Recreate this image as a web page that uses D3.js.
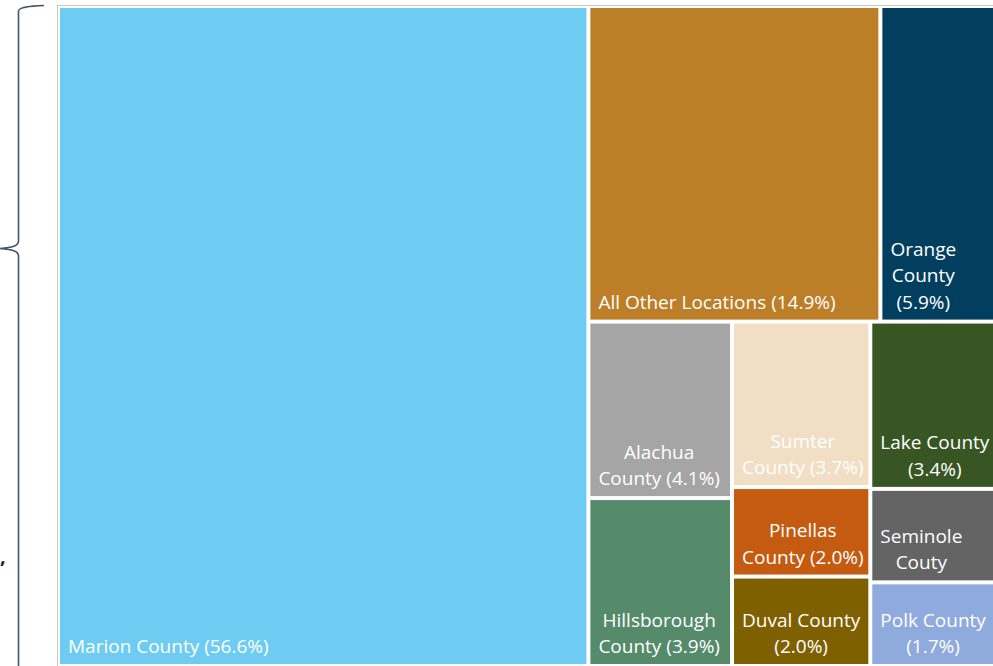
<!DOCTYPE html>
<html>
<head>
<meta charset="utf-8">
<script src="https://cdn.jsdelivr.net/npm/d3@7"></script>
<style>
  body { margin: 0; background: #fff; }
  svg { display: block; font-family: "Open Sans", sans-serif; }
</style>
</head>
<body>
<div id="chart"></div>
<script>
// Chart area
var svgWidth = 993;
var svgHeight = 666;

// Share of records by location (%)
var names = ["Marion County", "All Other Locations", "Orange County", "Alachua County",
  "Hillsborough County", "Sumter County", "Pinellas County", "Duval County",
  "Lake County", "Seminole Couty", "Polk County"];
var values = [56.6, 14.9, 5.9, 4.1, 3.9, 3.7, 2.0, 2.0, 3.4, 1.9, 1.7];
var colors = ["#6ecbf2", "#bd7e28", "#023f5f", "#a5a5a5", "#558a6b", "#f1dec4",
  "#c55a11", "#7f6000", "#375623", "#646464", "#8faadc"];
// label text as it is wrapped in the tiles
var labels = ["Marion County (56.6%)", "All Other Locations (14.9%)", "Orange\nCounty\n(5.9%)",
  "Alachua\nCounty (4.1%)", "Hillsborough\nCounty (3.9%)", "Sumter\nCounty (3.7%)",
  "Pinellas\nCounty (2.0%)", "Duval County\n(2.0%)", "Lake County\n(3.4%)",
  "Seminole\nCouty", "Polk County\n(1.7%)"];
// how the tiles are grouped (index into the arrays above)
var layout = [0, [[1, 2], [[3, 4], [5, 6, 7], [8, 9, 10]]]];

var svg = d3.select("#chart")
  .append("svg")
  .attr("width", svgWidth)
  .attr("height", svgHeight);

// outer frame of the chart
svg.append("rect")
  .attr("x", 57.5)
  .attr("y", 5.5)
  .attr("width", 1000)
  .attr("height", 700)
  .attr("fill", "none")
  .attr("stroke", "#c9c9c9")
  .attr("stroke-width", 1);

// brace on the left
svg.append("path")
  .attr("d", "M44,5.5 C30,6 19,7 18.5,11 L18.5,241 C18.5,246 12,247.5 0,248.5 C12,249.5 18.5,251 18.5,256 L18.5,700")
  .attr("fill", "none")
  .attr("stroke", "#44546a")
  .attr("stroke-width", 1.6);

svg.append("text")
  .attr("x", 0)
  .attr("y", 563)
  .attr("fill", "#222")
  .style("font-size", "20px")
  .style("font-weight", "bold")
  .text(",");

function build(g) {
  return Array.isArray(g) ? { children: g.map(build) } : { i: g };
}

var root = d3.hierarchy(build(layout))
  .sum(d => d.i !== undefined ? values[d.i] : 0);

// alternate horizontal / vertical splits by depth
d3.treemap()
  .size([938, 660])
  .paddingInner(4)
  .paddingOuter(d => d.depth === 0 ? 2 : 0)
  .tile(function(node, x0, y0, x1, y1) {
    (node.depth % 2 === 0 ? d3.treemapDice : d3.treemapSlice)(node, x0, y0, x1, y1);
  })(root);

var chartGroup = svg.append("g")
  .attr("transform", "translate(58, 6)");

var cell = chartGroup.selectAll("g.cell")
  .data(root.leaves())
  .enter()
  .append("g")
  .attr("class", "cell");

cell.append("rect")
  .attr("x", d => d.x0)
  .attr("y", d => d.y0)
  .attr("width", d => d.x1 - d.x0)
  .attr("height", d => d.y1 - d.y0)
  .attr("fill", d => colors[d.data.i]);

var lineHeight = 26.5;

cell.each(function(d) {
  var lines = labels[d.data.i].split("\n");
  var text = d3.select(this).append("text")
    .attr("fill", "#fff")
    .attr("text-anchor", "middle")
    .style("font-size", "19px");
  var spans = lines.map(function(line, k) {
    return text.append("tspan")
      .attr("y", d.y1 - 11 - (lines.length - 1 - k) * lineHeight)
      .text(line);
  });
  // lines are centred on each other, block sits at bottom left
  var blockWidth = d3.max(spans, s => s.node().getComputedTextLength());
  spans.forEach(s => s.attr("x", d.x0 + 8 + blockWidth / 2));
});
</script>
</body>
</html>
